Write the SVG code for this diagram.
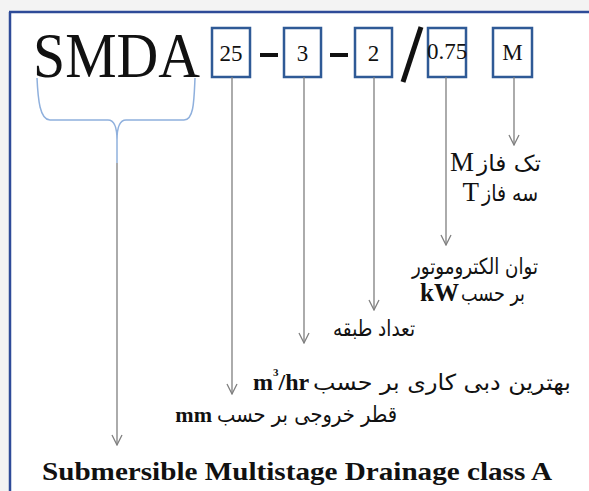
<svg xmlns="http://www.w3.org/2000/svg" width="589" height="491" viewBox="0 0 589 491">
<style>
.box{fill:#fff;stroke:#2f5a96;stroke-width:2.5}
.bt{font-family:"Liberation Serif",serif;font-size:23px;fill:#111;text-anchor:middle}
.con{stroke:#7f7f7f;stroke-width:1.3;fill:none}
.fa{font-family:"DejaVu Sans",sans-serif;font-size:22px;fill:#111;text-anchor:end}
.la{font-family:"Liberation Serif",serif;fill:#111}
</style>
<defs>
<marker id="ah" viewBox="-11 -6 12 12" refX="0" refY="0" markerWidth="12" markerHeight="12" markerUnits="userSpaceOnUse" orient="auto">
<path d="M-10,-5 L0,0 L-10,5" fill="none" stroke="#7f7f7f" stroke-width="1.3"/>
</marker>
</defs>
<rect x="0" y="0" width="589" height="491" fill="#f3f3f3"/>
<rect x="10" y="12" width="579" height="479" fill="#fff"/>
<path d="M9,12 H589 M10,12 V491" stroke="#2e4b98" stroke-width="2.5" fill="none"/>

<g id="smda">
<text class="la" x="33" y="77" font-size="64" textLength="167" lengthAdjust="spacingAndGlyphs">SMDA</text>
<path d="M37,78 C38,100 40,120 50,120 L108,120 C115,120 117,130 117,140 C117,130 119,120 126,120 L184,120 C194,120 194,100 195,78" fill="none" stroke="#8fb0dd" stroke-width="1.5"/>
<path d="M117,140 V163" stroke="#8fb0dd" stroke-width="1.5"/>
</g>

<g id="b25"><rect class="box" x="212" y="28" width="38" height="49"/><text class="bt" x="231" y="61">25</text></g>
<path d="M260,55 H278 M330,55 H348" stroke="#111" stroke-width="4"/>
<g id="b3"><rect class="box" x="284" y="28" width="37" height="49"/><text class="bt" x="302.5" y="61">3</text></g>
<g id="b2"><rect class="box" x="355" y="28" width="37" height="49"/><text class="bt" x="373.5" y="61">2</text></g>
<line x1="421" y1="27" x2="403" y2="82" stroke="#111" stroke-width="5"/>
<g id="b075"><rect class="box" x="428" y="28" width="38" height="49"/><text class="bt" x="447" y="59" font-size="15">0.75</text></g>
<g id="bM"><rect class="box" x="493" y="28" width="39" height="49"/><text class="bt" x="512.5" y="60" font-size="20">M</text></g>

<g id="connectors">
<line class="con" x1="117" y1="163" x2="117" y2="445" marker-end="url(#ah)"/>
<line class="con" x1="232" y1="77" x2="232" y2="394" marker-end="url(#ah)"/>
<line class="con" x1="304" y1="77" x2="304" y2="343" marker-end="url(#ah)"/>
<line class="con" x1="374" y1="77" x2="374" y2="310" marker-end="url(#ah)"/>
<line class="con" x1="446" y1="77" x2="446" y2="245" marker-end="url(#ah)"/>
<line class="con" x1="514" y1="77" x2="514" y2="145" marker-end="url(#ah)"/>
</g>

<g id="phase">
<text class="fa" x="541" y="171" textLength="64" lengthAdjust="spacingAndGlyphs">تک فاز</text>
<text class="la" x="474" y="171" font-size="27" text-anchor="end">M</text>
<text class="fa" x="538" y="201" textLength="56" lengthAdjust="spacingAndGlyphs">سه فاز</text>
<text class="la" x="479" y="201" font-size="27" text-anchor="end">T</text>
</g>
<g id="power">
<text class="fa" x="538" y="274" textLength="126" lengthAdjust="spacingAndGlyphs">توان الکتروموتور</text>
<text class="fa" x="525" y="301" textLength="64" lengthAdjust="spacingAndGlyphs">بر حسب</text>
<text class="la" x="459" y="301" font-size="25" font-weight="bold" text-anchor="end">kW</text>
</g>
<g id="stages">
<text class="fa" x="415" y="336" textLength="82" lengthAdjust="spacingAndGlyphs">تعداد طبقه</text>
</g>
<g id="flow">
<text class="fa" x="571" y="390" textLength="258" lengthAdjust="spacingAndGlyphs">بهترین دبی کاری بر حسب</text>
<text class="la" x="253" y="390" font-size="24" font-weight="bold">m<tspan font-size="11" dy="-14">3</tspan><tspan dy="14">/hr</tspan></text>
</g>
<g id="diam">
<text class="fa" x="397" y="422" textLength="180" lengthAdjust="spacingAndGlyphs">قطر خروجی بر حسب</text>
<text class="la" x="212" y="422" font-size="22" font-weight="bold" text-anchor="end">mm</text>
</g>
<g id="name">
<text class="la" x="42" y="480" font-size="25" font-weight="bold" textLength="510" lengthAdjust="spacingAndGlyphs">Submersible Multistage  Drainage class A</text>
</g>
</svg>
